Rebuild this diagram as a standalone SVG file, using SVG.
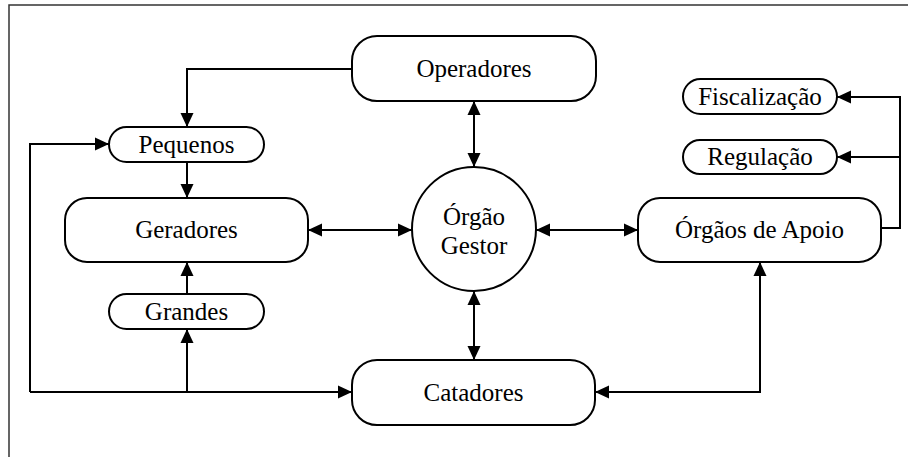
<svg xmlns="http://www.w3.org/2000/svg" width="908" height="457" viewBox="0 0 908 457">
  <defs>
    <marker id="arrow" markerUnits="userSpaceOnUse" markerWidth="14" markerHeight="14" refX="14" refY="7" orient="auto-start-reverse">
      <path d="M0,0.5 L14,7 L0,13.5 Z" fill="#000"/>
    </marker>
  </defs>
  <style>
    .box { fill: #fff; stroke: #000; stroke-width: 2; }
    .lbl { font-family: "Liberation Serif", "Times New Roman", serif; font-size: 25px; fill: #000; text-anchor: middle; }
    .wire { fill: none; stroke: #000; stroke-width: 2; }
    .one { marker-end: url(#arrow); }
    .two { marker-start: url(#arrow); marker-end: url(#arrow); }
    .frame { fill: none; stroke: #333; stroke-width: 1.5; }
  </style>
  <rect width="908" height="457" fill="#fff"/>
  <path class="frame" d="M9,457 V5 H908"/>

  <g id="connectors">
    <path class="wire one" d="M352,69 H187 V127"/>
    <path class="wire one" d="M187,162 V198"/>
    <path class="wire one" d="M187,294 V262"/>
    <path class="wire one" d="M187,392 V329"/>
    <path class="wire one" d="M30,392 V144 H109"/>
    <path class="wire one" d="M30,392 H352"/>
    <path class="wire two" d="M474,101 V167"/>
    <path class="wire two" d="M474,291 V360"/>
    <path class="wire two" d="M308,230 H412"/>
    <path class="wire two" d="M536,230 H638"/>
    <path class="wire one" d="M881,228 H900 V97 H837"/>
    <path class="wire one" d="M900,157 H837"/>
    <path class="wire two" d="M760,262 V392 H595"/>
  </g>

  <g id="operadores">
    <rect class="box" x="352" y="36" width="244" height="65" rx="25"/>
    <text class="lbl" x="474" y="77">Operadores</text>
  </g>
  <g id="pequenos">
    <rect class="box" x="109" y="127" width="155" height="35" rx="17.5"/>
    <text class="lbl" x="186.5" y="153">Pequenos</text>
  </g>
  <g id="geradores">
    <rect class="box" x="65" y="198" width="243" height="64" rx="22"/>
    <text class="lbl" x="186.5" y="238">Geradores</text>
  </g>
  <g id="grandes">
    <rect class="box" x="109" y="294" width="155" height="35" rx="17.5"/>
    <text class="lbl" x="186.5" y="320">Grandes</text>
  </g>
  <g id="catadores">
    <rect class="box" x="352" y="360" width="243" height="65" rx="25"/>
    <text class="lbl" x="473.5" y="401">Catadores</text>
  </g>
  <g id="orgao-gestor">
    <circle class="box" cx="474" cy="229" r="62"/>
    <text class="lbl" x="474" y="225">Órgão</text>
    <text class="lbl" x="474" y="254">Gestor</text>
  </g>
  <g id="orgaos-apoio">
    <rect class="box" x="638" y="198" width="243" height="64" rx="22"/>
    <text class="lbl" x="759.5" y="238">Órgãos de Apoio</text>
  </g>
  <g id="fiscalizacao">
    <rect class="box" x="683" y="79" width="154" height="35" rx="17.5"/>
    <text class="lbl" x="760" y="105">Fiscalização</text>
  </g>
  <g id="regulacao">
    <rect class="box" x="683" y="140" width="154" height="34" rx="17"/>
    <text class="lbl" x="760" y="165">Regulação</text>
  </g>
</svg>
